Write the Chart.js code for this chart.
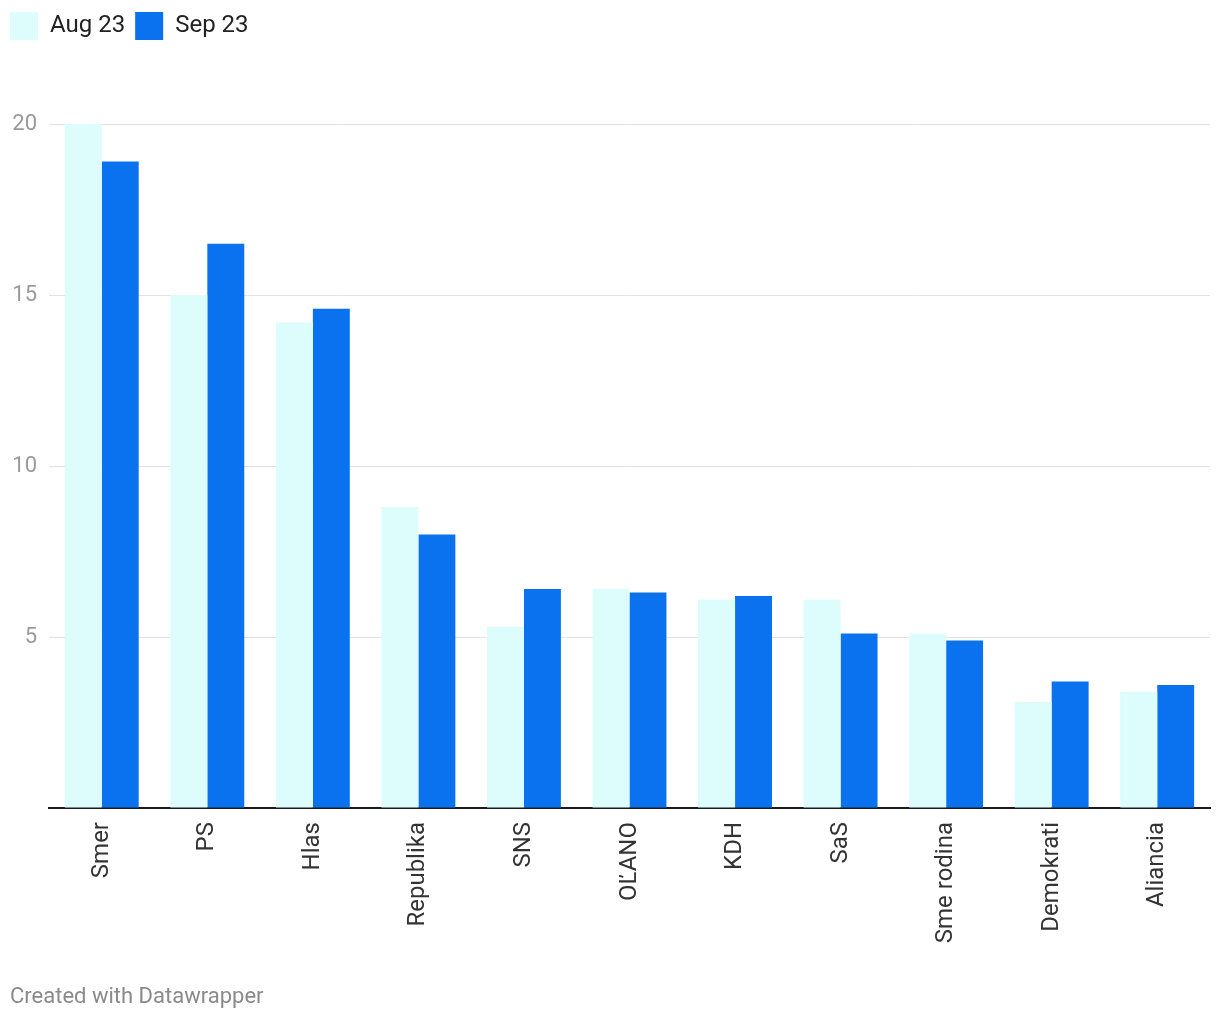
<!DOCTYPE html>
<html>
<head>
<meta charset="utf-8">
<script src="https://cdn.jsdelivr.net/npm/chart.js@4/dist/chart.umd.min.js"></script>
<style>
  html, body { margin: 0; padding: 0; background: #fff; }
  #wrap { position: relative; width: 1220px; height: 1020px; }
  #footer { position: absolute; left: 10px; top: 983px; font-family: Roboto, sans-serif; font-size: 22px; color: #8a8a8a; }
</style>
</head>
<body>
<div id="wrap">
  <canvas id="c" width="1220" height="1020"></canvas>
  <div id="footer">Created with Datawrapper</div>
</div>
<script>
const categories = ["Smer", "PS", "Hlas", "Republika", "SNS", "OĽANO", "KDH", "SaS", "Sme rodina", "Demokrati", "Aliancia"];
const seriesNames = ["Aug 23", "Sep 23"];
const aug23 = [20.0, 15.0, 14.2, 8.8, 5.3, 6.4, 6.1, 6.1, 5.1, 3.1, 3.4];
const sep23 = [18.9, 16.5, 14.6, 8.0, 6.4, 6.3, 6.2, 5.1, 4.9, 3.7, 3.6];
const yTicks = [0, 5, 10, 15, 20];

const legendSpace = {
  id: 'legendSpace',
  beforeInit(chart) {
    const orig = chart.legend.fit;
    chart.legend.fit = function () {
      orig.bind(chart.legend)();
      this.height = 122;
    };
  }
};

new Chart(document.getElementById('c'), {
  type: 'bar',
  data: {
    labels: categories,
    datasets: [
      { label: seriesNames[0], data: aug23, backgroundColor: '#ddfdfd', borderWidth: 0 },
      { label: seriesNames[1], data: sep23, backgroundColor: '#0a72ef', borderWidth: 0 }
    ]
  },
  options: {
    responsive: false,
    animation: false,
    devicePixelRatio: 1,
    layout: { padding: { left: 0, right: 10, top: 2, bottom: 0 } },
    datasets: { bar: { categoryPercentage: 0.7, barPercentage: 1.0 } },
    plugins: {
      legend: {
        position: 'top',
        align: 'start',
        labels: {
          boxWidth: 28,
          boxHeight: 28,
          padding: 10,
          color: '#222',
          font: { family: 'Roboto', size: 24 }
        }
      },
      tooltip: { enabled: false }
    },
    scales: {
      x: {
        grid: { display: false, drawTicks: false },
        border: { display: true, color: '#1a1a1a', width: 2 },
        ticks: {
          minRotation: 90, maxRotation: 90, padding: 14, autoSkip: false,
          color: '#333', font: { family: 'Roboto', size: 24 }
        },
        afterFit(scale) { scale.height = 1020 - 808; }
      },
      y: {
        min: 0, max: 20,
        afterBuildTicks(scale) { scale.ticks = yTicks.map(v => ({ value: v })); },
        grid: { color: '#e2e2e2', lineWidth: 1, drawTicks: false },
        border: { display: false },
        ticks: {
          padding: 12,
          color: '#9a9a9a',
          font: { family: 'Roboto', size: 22 },
          callback: (v) => v === 0 ? '' : v
        },
        afterFit(scale) { scale.width = 49; }
      }
    }
  },
  plugins: [legendSpace]
});
</script>
</body>
</html>
